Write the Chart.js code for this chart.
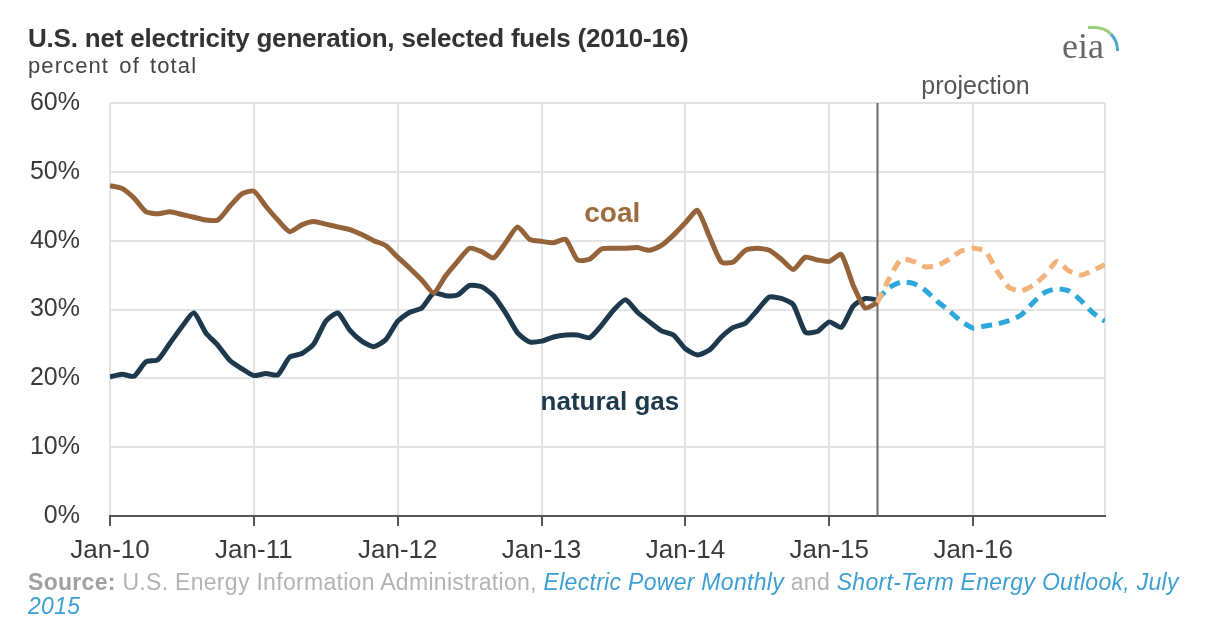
<!DOCTYPE html>
<html>
<head>
<meta charset="utf-8">
<script src="https://cdn.jsdelivr.net/npm/chart.js@4.4.1/dist/chart.umd.min.js"></script>
<style>
  html, body { margin: 0; padding: 0; background: #fff; }
  body { width: 1208px; height: 617px; position: relative; overflow: hidden; font-family: 'Liberation Sans', Arial, sans-serif; }
  #wrap { position: absolute; left: 0; top: 0; width: 1208px; height: 617px; }
  .title { position: absolute; left: 28px; top: 25px; font-size: 26px; font-weight: bold; color: #333; line-height: 26px; white-space: nowrap; letter-spacing: -0.2px; }
  .subtitle { position: absolute; left: 28px; top: 55px; font-size: 22px; color: #444; line-height: 22px; white-space: nowrap; letter-spacing: 1.1px; word-spacing: 3px; }
  .logo { position: absolute; left: 1062px; top: 20px; width: 70px; height: 46px; }
  .logo .txt { position: absolute; left: 0; top: 8px; font-family: 'Liberation Serif', 'DejaVu Serif', serif; font-size: 36px; color: #666; line-height: 36px; }
  .logo .arc1 { position: absolute; left: 26px; top: 6px; width: 28px; height: 22px; border-top: 3px solid #9ccf7a; border-right: 3px solid #4fa6c9; border-radius: 0 24px 0 0; }
  .source { position: absolute; left: 28px; top: 570px; font-size: 23px; color: #b3b3b3; line-height: 24px; white-space: nowrap; letter-spacing: 0.3px; }
  .source b { color: #a0a0a0; }
  .source i { color: #3d9fd3; }
</style>
</head>
<body>
<div id="wrap"><canvas id="chart" width="1208" height="617"></canvas></div>
<div class="title">U.S. net electricity generation, selected fuels (2010-16)</div>
<div class="subtitle">percent of total</div>
<div class="logo"><div class="arc1"></div><div class="txt">eia</div></div>
<div class="source"><b>Source:</b> U.S. Energy Information Administration, <i>Electric Power Monthly</i> and <i>Short-Term Energy Outlook, July</i><br><i>2015</i></div>
<script>
// monthly share of total generation, Jan-10 .. May-15 (history)
const coalHist = [
  48.0, 47.6, 46.2, 44.2, 43.9, 44.2, 43.8, 43.4, 43.0, 43.0, 45.0, 46.8,
  47.2, 45.0, 43.0, 41.3, 42.3, 42.8, 42.4, 42.0, 41.6, 40.9, 40.0, 39.3,
  37.6, 36.0, 34.3, 32.4, 34.9, 37.0, 38.9, 38.4, 37.5, 39.7, 42.0, 40.2,
  39.9, 39.7, 40.2, 37.2, 37.3, 38.8, 38.9, 38.9, 39.0, 38.6, 39.3, 40.8,
  42.6, 44.4, 40.6, 36.9, 36.9, 38.6, 38.9, 38.6, 37.3, 35.8, 37.6, 37.2,
  37.0, 38.0, 33.5, 30.2, 31.0
];
const gasHist = [
  20.2, 20.6, 20.3, 22.4, 22.7, 25.1, 27.5, 29.5, 26.6, 24.8, 22.6, 21.4,
  20.4, 20.7, 20.5, 23.1, 23.6, 25.0, 28.3, 29.5, 27.0, 25.4, 24.6, 25.6,
  28.3, 29.6, 30.2, 32.4, 32.0, 32.1, 33.5, 33.3, 32.0, 29.5, 26.6, 25.3,
  25.4, 26.0, 26.3, 26.3, 25.9, 27.7, 29.9, 31.4, 29.6, 28.2, 26.9, 26.3,
  24.3, 23.4, 24.1, 26.0, 27.4, 28.0, 29.9, 31.8, 31.6, 30.7, 26.7, 26.8,
  28.2, 27.4, 30.5, 31.6, 31.4
];
// STEO projection, May-15 .. Dec-16
const coalProj = [
  31.0, 34.5, 37.3, 37.0, 36.2, 36.4, 37.3, 38.5,
  38.9, 38.5, 35.6, 33.2, 32.7, 33.5, 35.0, 37.0, 35.6, 35.0, 35.7, 36.5
];
const gasProj = [
  31.4, 33.2, 34.0, 33.8, 32.8, 31.2, 29.8, 28.3,
  27.3, 27.6, 27.9, 28.4, 29.2, 31.0, 32.5, 33.0, 32.7, 31.3, 29.5, 28.3
];

const xTickLabels = ['Jan-10', 'Jan-11', 'Jan-12', 'Jan-13', 'Jan-14', 'Jan-15', 'Jan-16'];
const xTickIdx = [0, 12, 24, 36, 48, 60, 72];
const lastIdx = 83;      // Dec-16
const projIdx = 64;      // May-15, first projected month
const yTicks = [0, 10, 20, 30, 40, 50, 60];

const toPts = (arr, start) => arr.map((v, i) => ({ x: start + i, y: v }));

const COAL = '#94633a', GAS = '#1d394b';
const COAL_P = '#f1b27c', GAS_P = '#2ea7da';
const FONT = "'Liberation Sans', Arial, sans-serif";

// text labels placed in data coordinates
const notes = [
  { text: 'coal', x: 41.9, y: 43.8, color: '#9c6b3e', font: 'bold 28px ' + FONT },
  { text: 'natural gas', x: 41.7, y: 16.4, color: '#1d394b', font: 'bold 26px ' + FONT },
  { text: 'projection', x: 72.2, y: 62.3, color: '#555', font: '25px ' + FONT }
];

const overlay = {
  id: 'overlay',
  beforeDatasetsDraw(chart) {
    const { ctx, chartArea, scales: { x } } = chart;
    const px = Math.round(x.getPixelForValue(projIdx)) + 0.5;
    ctx.save();
    ctx.strokeStyle = '#6a6a6a';
    ctx.lineWidth = 2;
    ctx.beginPath();
    ctx.moveTo(px, chartArea.top);
    ctx.lineTo(px, chartArea.bottom);
    ctx.stroke();
    ctx.restore();
  },
  afterDatasetsDraw(chart) {
    const { ctx, scales: { x, y } } = chart;
    ctx.save();
    ctx.textAlign = 'center';
    ctx.textBaseline = 'middle';
    notes.forEach(n => {
      ctx.font = n.font;
      ctx.fillStyle = n.color;
      ctx.fillText(n.text, x.getPixelForValue(n.x), y.getPixelForValue(n.y));
    });
    ctx.restore();
  }
};

const lineDs = (label, data, color, dashed) => ({
  label, data,
  borderColor: color,
  borderWidth: 5,
  borderDash: dashed ? [11, 7] : [],
  pointRadius: 0,
  tension: 0.2,
  fill: false
});

new Chart(document.getElementById('chart'), {
  type: 'line',
  data: {
    datasets: [
      lineDs('coal projection', toPts(coalProj, projIdx), COAL_P, true),
      lineDs('natural gas projection', toPts(gasProj, projIdx), GAS_P, true),
      lineDs('coal', toPts(coalHist, 0), COAL, false),
      lineDs('natural gas', toPts(gasHist, 0), GAS, false)
    ]
  },
  options: {
    responsive: false,
    animation: false,
    layout: { padding: { left: 0, top: 103, right: 103, bottom: 0 } },
    plugins: { legend: { display: false }, tooltip: { enabled: false } },
    scales: {
      x: {
        type: 'linear',
        min: 0, max: lastIdx,
        afterBuildTicks: s => { s.ticks = xTickIdx.concat([lastIdx]).map(v => ({ value: v })); },
        afterFit: s => { s.height = 101; },
        ticks: {
          autoSkip: false, maxRotation: 0, padding: 9,
          color: '#3a3a3a',
          font: { family: FONT, size: 26 },
          callback: v => { const i = xTickIdx.indexOf(v); return i >= 0 ? xTickLabels[i] : ''; }
        },
        grid: {
          color: '#e3e3e3', lineWidth: 2, tickLength: 10, tickWidth: 2,
          tickColor: c => (c.tick && c.tick.value === lastIdx) ? 'rgba(0,0,0,0)' : '#555'
        },
        border: { display: true, color: '#555', width: 2 }
      },
      y: {
        min: 0, max: 60,
        afterBuildTicks: s => { s.ticks = yTicks.map(v => ({ value: v })); },
        afterFit: s => { s.width = 110; },
        ticks: {
          padding: 30,
          color: '#3a3a3a',
          font: { family: FONT, size: 25 },
          callback: v => v + '%'
        },
        grid: { color: '#e3e3e3', lineWidth: 2, drawTicks: false },
        border: { display: false }
      }
    }
  },
  plugins: [overlay]
});
</script>
</body>
</html>
